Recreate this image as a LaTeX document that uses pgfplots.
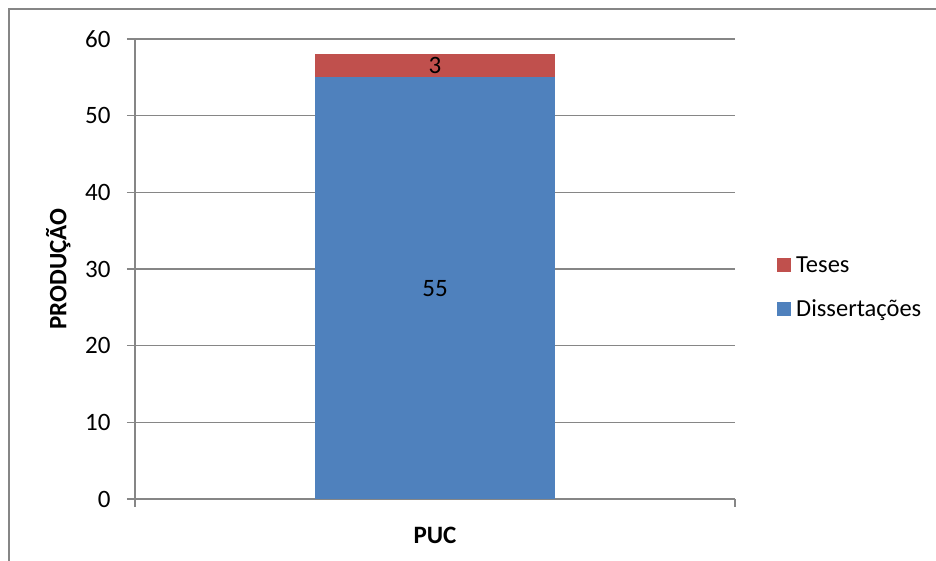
\documentclass[border=0pt]{standalone}
\usepackage{pgfplots}
\pgfplotsset{compat=1.18}
\usepackage{fontspec}
\setmainfont{Carlito}
\definecolor{axgray}{RGB}{134,134,134}
\definecolor{tesred}{RGB}{192,80,77}
\definecolor{disblue}{RGB}{79,129,189}

\begin{document}
\begin{tikzpicture}
% picture = 936 x 561; the plot area's lower-left corner sits at (0,0)
\useasboundingbox (-135pt,499pt) rectangle (801pt,-62pt);
% outer chart frame (right and bottom edges fall outside the picture)
\draw[axgray, line width=1.3pt] (-126pt,-62pt) -- (-126pt,490pt) -- (801pt,490pt);
\begin{axis}[
    at={(0pt,0pt)}, anchor=south west,
    scale only axis,
    width=600pt, height=460pt,
    ybar stacked,
    bar width=240pt,
    xmin=-0.5, xmax=0.5,
    ymin=0, ymax=60,
    ytick={0,10,...,60},
    xtick={-0.5,0.5},
    xticklabels={},
    extra x ticks={0},
    extra x tick labels={\textbf{PUC}},
    extra x tick style={major tick length=0pt, tick label style={yshift=-25pt}},
    axis x line*=bottom,
    axis y line*=left,
    axis line style={axgray, line width=1.3pt, -},
    tick style={axgray, line width=1.3pt},
    tick align=outside,
    major tick length=8pt,
    ymajorgrids,
    grid style={axgray, line width=1.3pt},
    ylabel={\textbf{PRODUÇÃO}},
    ylabel style={at={(rel axis cs:0,0.5)}, anchor=south, yshift=61pt},
    font=\fontsize{25}{30}\selectfont,
    ticklabel style={font=\fontsize{25}{30}\selectfont},
    yticklabel style={xshift=-13pt},
    /pgf/number format/assume math mode=true,
    nodes near coords,
    point meta=explicit,
    nodes near coords style={anchor=center, text=black,
        font=\fontsize{25}{30}\selectfont},
    reverse legend,
    legend style={draw=none, fill=none, at={(rel axis cs:1.065,0.46)}, anchor=west,
        font=\fontsize{24.5}{29}\selectfont, row sep=22pt},
    legend cell align=left,
    legend image code/.code={\fill[#1] (-4pt,-7pt) rectangle (10pt,7pt);},
]
\addplot[fill=disblue, draw=none] coordinates {(0,55) [55]};
\addlegendentry{\hspace{3pt}Dissertações}
\addplot[fill=tesred, draw=none] coordinates {(0,3) [3]};
\addlegendentry{\hspace{3pt}Teses}
\end{axis}
\end{tikzpicture}
\end{document}
